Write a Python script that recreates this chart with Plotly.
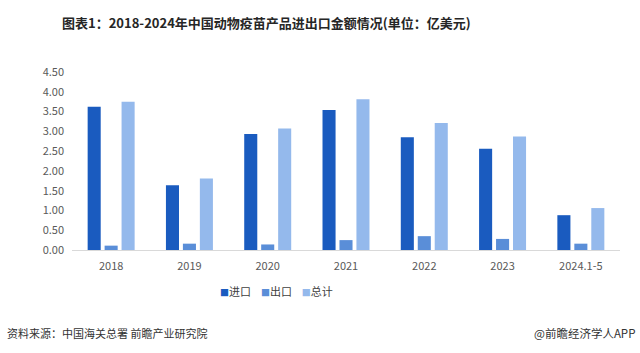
import plotly.graph_objects as go

categories = ["2018", "2019", "2020", "2021", "2022", "2023", "2024.1-5"]
imports = [3.62, 1.64, 2.93, 3.54, 2.85, 2.56, 0.88]
exports = [0.11, 0.16, 0.14, 0.25, 0.35, 0.28, 0.16]
totals = [3.75, 1.81, 3.07, 3.81, 3.21, 2.87, 1.06]
series_names = ["进口", "出口", "总计"]
colors = ["#1a5bbf", "#5a8ed8", "#94b9ec"]
y_ticks = [0, 0.5, 1, 1.5, 2, 2.5, 3, 3.5, 4, 4.5]

font_family = "Noto Sans CJK SC, Microsoft YaHei, sans-serif"

fig = go.Figure()
for name, vals, c in zip(series_names, [imports, exports, totals], colors):
    fig.add_trace(go.Bar(x=categories, y=vals, name=name, marker=dict(color=c, line=dict(width=0))))

legend_text = "&nbsp;&nbsp;&nbsp;&nbsp;".join(
    f"<span style='color:{c};font-size:9px'>■</span>{n}" for n, c in zip(series_names, colors)
)

W, L, R, T, B = 640, 72, 20, 72, 103
pw = W - L - R
ph = 353 - T - B

def px(x):
    return (x - L) / pw

def py(y):
    return (353 - y - B) / ph

fig.update_layout(
    width=640, height=353,
    margin=dict(l=L, r=R, t=T, b=B),
    paper_bgcolor="white", plot_bgcolor="white",
    barmode="group", bargap=0.35, bargroupgap=0.23,
    font=dict(family=font_family, color="#595959", size=11),
    showlegend=False,
    xaxis=dict(showline=True, linecolor="#d9d9d9", linewidth=1, ticks="",
               tickfont=dict(size=11, color="#595959"), showgrid=False,
               ticklabelstandoff=6),
    yaxis=dict(range=[0, 4.5], tickvals=y_ticks, tickformat=".2f", showgrid=False,
               zeroline=False, showline=False, ticks="", ticklen=0,
               ticklabelstandoff=7,
               tickfont=dict(size=11, color="#595959")),
    annotations=[
        dict(text="<b>图表1：2018-2024年中国动物疫苗产品进出口金额情况(单位：亿美元)</b>",
             xref="paper", yref="paper", x=px(60), y=py(22),
             xanchor="left", yanchor="middle", showarrow=False,
             font=dict(size=13, color="#262626", family=font_family)),
        dict(text=legend_text,
             xref="paper", yref="paper", x=px(276), y=py(291),
             xanchor="center", yanchor="middle", showarrow=False,
             font=dict(size=11, color="#404040", family=font_family)),
        dict(text="资料来源：中国海关总署 前瞻产业研究院",
             xref="paper", yref="paper", x=px(5), y=py(333),
             xanchor="left", yanchor="middle", showarrow=False,
             font=dict(size=11, color="#333333", family=font_family)),
        dict(text="@前瞻经济学人APP",
             xref="paper", yref="paper", x=px(637), y=py(333),
             xanchor="right", yanchor="middle", showarrow=False,
             font=dict(size=11.5, color="#333333", family=font_family)),
    ],
)

fig.write_html("out.html")
